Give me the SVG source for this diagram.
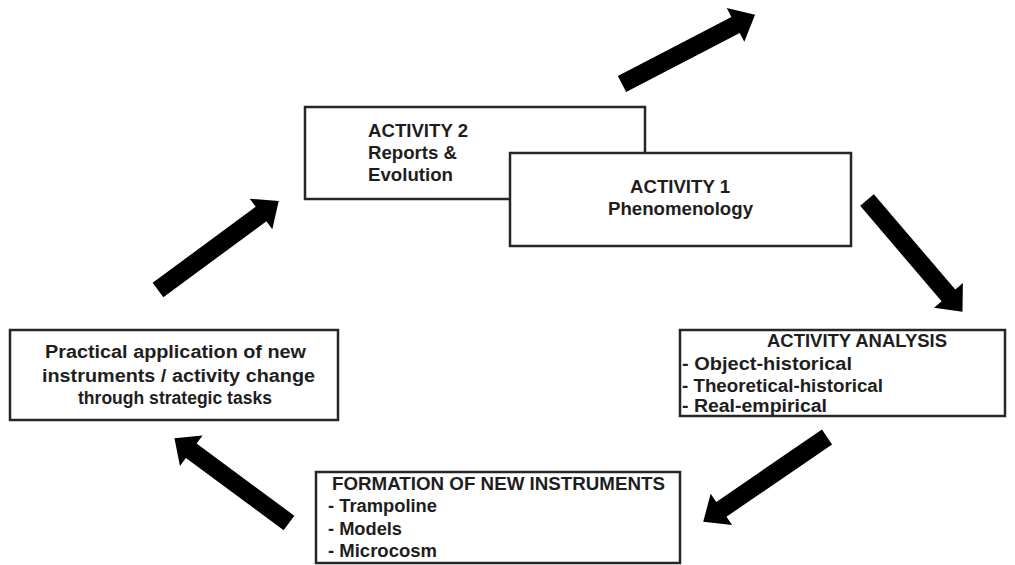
<svg xmlns="http://www.w3.org/2000/svg" xmlns:xlink="http://www.w3.org/1999/xlink" width="1015" height="565" viewBox="0 0 1015 565">
  <style>
    .box { fill: #ffffff; stroke: #262626; stroke-width: 2.5; }
    .t { font-family: "Liberation Sans", Arial, sans-serif; font-weight: bold; font-size: 17.5px; fill: #1e1e1e; }
    .arr { fill: #000000; }
  </style>
  <defs>
    <path id="arrow" d="M0,-9 L128,-9 L128,-19 L150,0 L128,19 L128,9 L0,9 Z"/>
  </defs>
  <rect width="1015" height="565" fill="#ffffff"/>

  <g id="connectors" class="arr">
    <use xlink:href="#arrow" transform="translate(622,84) rotate(-27.5) scale(1.0,1)"/>
    <use xlink:href="#arrow" transform="translate(867,200) rotate(49.5) scale(0.98,1)"/>
    <use xlink:href="#arrow" transform="translate(827,437) rotate(145.6) scale(1.0,1)"/>
    <use xlink:href="#arrow" transform="translate(289,523) rotate(-143.5) scale(0.95,1)"/>
    <use xlink:href="#arrow" transform="translate(158,290) rotate(-36.4) scale(1.0,1)"/>
  </g>

  <g id="activity2">
    <rect class="box" x="305" y="107" width="340" height="92"/>
    <text class="t" x="368" y="136.5" textLength="100" lengthAdjust="spacingAndGlyphs">ACTIVITY 2</text>
    <text class="t" x="368" y="158.5" textLength="89" lengthAdjust="spacingAndGlyphs">Reports &amp;</text>
    <text class="t" x="368" y="181" textLength="85" lengthAdjust="spacingAndGlyphs">Evolution</text>
  </g>

  <g id="activity1">
    <rect class="box" x="510" y="153" width="341" height="93"/>
    <text class="t" x="630" y="192.5" textLength="100" lengthAdjust="spacingAndGlyphs">ACTIVITY 1</text>
    <text class="t" x="608" y="215" textLength="145" lengthAdjust="spacingAndGlyphs">Phenomenology</text>
  </g>

  <g id="activity-analysis">
    <rect class="box" x="680" y="330" width="325" height="86"/>
    <text class="t" x="767" y="347" textLength="180" lengthAdjust="spacingAndGlyphs">ACTIVITY ANALYSIS</text>
    <text class="t" x="682" y="369.5" textLength="170" lengthAdjust="spacingAndGlyphs">- Object-historical</text>
    <text class="t" x="682" y="391.5" textLength="201" lengthAdjust="spacingAndGlyphs">- Theoretical-historical</text>
    <text class="t" x="682" y="412" textLength="145" lengthAdjust="spacingAndGlyphs">- Real-empirical</text>
  </g>

  <g id="formation">
    <rect class="box" x="316" y="472" width="364" height="91"/>
    <text class="t" x="332" y="490" textLength="333" lengthAdjust="spacingAndGlyphs">FORMATION OF NEW INSTRUMENTS</text>
    <text class="t" x="328" y="511.5" textLength="109" lengthAdjust="spacingAndGlyphs">- Trampoline</text>
    <text class="t" x="328" y="535" textLength="74" lengthAdjust="spacingAndGlyphs">- Models</text>
    <text class="t" x="328" y="557" textLength="109" lengthAdjust="spacingAndGlyphs">- Microcosm</text>
  </g>

  <g id="practical">
    <rect class="box" x="10" y="330" width="328" height="90"/>
    <text class="t" x="45" y="358" textLength="261" lengthAdjust="spacingAndGlyphs">Practical application of new</text>
    <text class="t" x="42" y="381.5" textLength="273" lengthAdjust="spacingAndGlyphs">instruments / activity change</text>
    <text class="t" x="78" y="403.5" textLength="194" lengthAdjust="spacingAndGlyphs">through strategic tasks</text>
  </g>
</svg>
